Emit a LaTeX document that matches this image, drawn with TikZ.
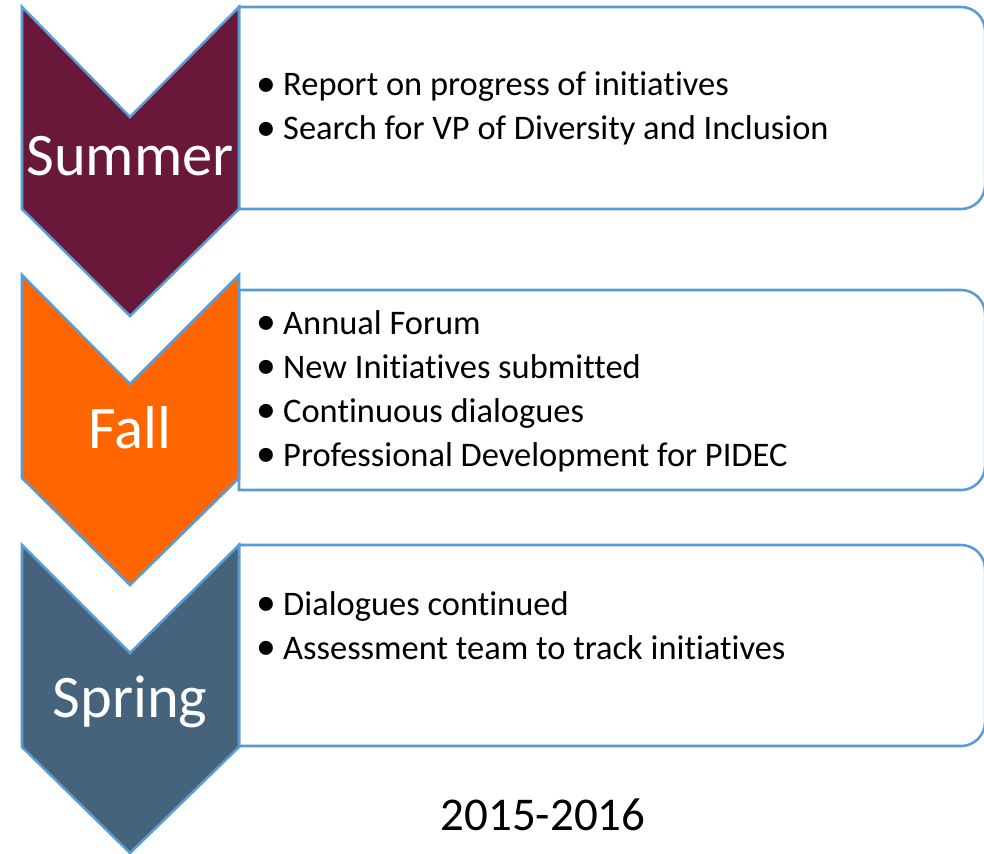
\documentclass[tikz,border=0pt]{standalone}
\usepackage{fontspec}
\setmainfont{Carlito}[Ligatures=NoCommon]
\usetikzlibrary{positioning}
\definecolor{cline}{RGB}{91,155,213}
\definecolor{cmaroon}{RGB}{106,24,57}
\definecolor{corange}{RGB}{255,102,0}
\definecolor{cslate}{RGB}{69,99,122}
\newcommand{\bul}{\makebox[15.6pt][l]{\hspace{-3.5pt}\raisebox{-0.4pt}{\scalebox{1.15}{•}}}}

\begin{document}
\begin{tikzpicture}[x=0.025cm, y=-0.025cm,
    chev/.style={draw=cline, line width=1.8pt, line join=miter},
    tbox/.style={draw=cline, line width=1.8pt, fill=white},
    season/.style={text=white, font=\fontsize{43}{52}\selectfont, inner sep=0pt, anchor=base},
    item/.style={font=\fontsize{24.5}{30}\selectfont, inner sep=0pt, anchor=base west},
  ]
  \useasboundingbox (0,0) rectangle (984,853);
  \clip (0,0) rectangle (984,853);

  % Summer
  \draw[tbox] (239,7) -- (961,7) to[out=0,in=90] (985,31) -- (985,185)
    to[out=-90,in=0] (961,209) -- (239,209) -- cycle;
  \draw[chev, fill=cmaroon] (22,7) -- (130,117) -- (239,7) -- (239,209)
    -- (130,316) -- (22,209) -- cycle;
  \node[season] (summer) at (130,176) {Summer};
  \node[item] (sumA) at (261,96) {\bul Report on progress of initiatives};
  \node[item] (sumB) at (261,140) {\bul Search for VP of Diversity and Inclusion};

  % Fall
  \draw[tbox] (239,290) -- (961,290) to[out=0,in=90] (985,314) -- (985,466)
    to[out=-90,in=0] (961,490) -- (239,490) -- cycle;
  \draw[chev, fill=corange] (22,275) -- (130,384) -- (239,275) -- (239,478)
    -- (130,585) -- (22,478) -- cycle;
  \node[season] (fall) at (130,448) {Fall};
  \node[item] (fallA) at (261,334) {\bul Annual Forum};
  \node[item] (fallB) at (261,378) {\bul New Initiatives submitted};
  \node[item] (fallC) at (261,422) {\bul Continuous dialogues};
  \node[item] (fallD) at (261,466) {\bul Professional Development for PIDEC};

  % Spring
  \draw[tbox] (239,545) -- (961,545) to[out=0,in=90] (985,569) -- (985,722)
    to[out=-90,in=0] (961,746) -- (239,746) -- cycle;
  \draw[chev, fill=cslate] (22,545) -- (130,653) -- (239,545) -- (239,747)
    -- (130,853) -- (22,747) -- cycle;
  \node[season] (spring) at (130,717) {Spring};
  \node[item] (sprA) at (261,615) {\bul Dialogues continued};
  \node[item] (sprB) at (261,659) {\bul Assessment team to track initiatives};

  % Year
  \node[font=\fontsize{33.4}{40}\selectfont, inner sep=0pt, anchor=base]
    (year) at (543,830) {2015-2016};
\end{tikzpicture}
\end{document}
